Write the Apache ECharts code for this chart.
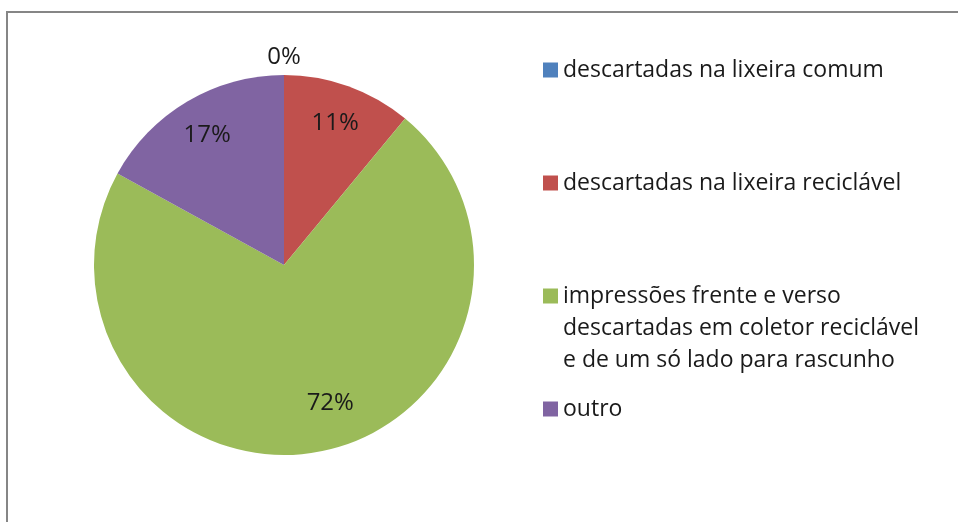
<!DOCTYPE html>
<html>
<head>
<meta charset="utf-8">
<script src="https://cdn.jsdelivr.net/npm/echarts@6/dist/echarts.min.js"></script>
<style>
  html, body { margin: 0; padding: 0; background: #fff; }
  #chart { width: 958px; height: 522px; }
</style>
</head>
<body>
<div id="chart"></div>
<script>
// categorias e valores (%)
var categories = [
  'descartadas na lixeira comum',
  'descartadas na lixeira reciclável',
  'impressões frente e verso\ndescartadas em coletor reciclável\ne de um só lado para rascunho',
  'outro'
];
var values = [0, 11, 72, 17];
var colors = ['#4F81BD', '#C0504D', '#9BBB59', '#8064A2'];
var legendTops = [54, 167, 216, 393];

var FONT = 'Open Sans';
var TXT = '#1a1a1a';

var myChart = echarts.init(document.getElementById('chart'));

// pie principal
var pieData = categories.map(function (c, i) {
  return { name: c, value: values[i], itemStyle: { color: colors[i] } };
});

// rótulos dentro das fatias
var innerLabels = categories.map(function (c, i) {
  return { name: c, value: values[i], label: { show: values[i] > 0 } };
});
// rótulo de 0% fora do pie
var outerLabels = categories.map(function (c, i) {
  return { name: c, value: values[i], label: { show: values[i] === 0 } };
});

var labelSeries = function (radius, data) {
  return {
    type: 'pie',
    center: [284, 265],
    radius: radius,
    startAngle: 90,
    clockwise: true,
    silent: true,
    animation: false,
    emphasis: { disabled: true },
    itemStyle: { color: 'transparent', borderWidth: 0 },
    label: {
      position: 'inside',
      formatter: '{c}%',
      color: TXT,
      fontFamily: FONT,
      fontSize: 24
    },
    labelLine: { show: false },
    data: data
  };
};

var legends = categories.map(function (c, i) {
  var multi = c.indexOf('\n') >= 0;
  return {
    orient: 'vertical',
    left: 543,
    top: legendTops[i],
    padding: 0,
    itemWidth: 15,
    itemHeight: 15,
    itemGap: 0,
    icon: 'rect',
    selectedMode: false,
    data: [c],
    // linhas vazias no topo p/ o quadrado ficar na 1a linha
    formatter: function (name) {
      return multi ? '\n\n' + name : name;
    },
    textStyle: {
      fontFamily: FONT,
      fontSize: 23,
      color: TXT,
      lineHeight: 32
    }
  };
});

var option = {
  animation: false,
  legend: legends,
  graphic: [{
    type: 'rect',
    shape: { x: 7, y: 12, width: 1000, height: 600 },
    style: { fill: 'none', stroke: '#868686', lineWidth: 2 },
    silent: true
  }],
  series: [
    {
      type: 'pie',
      center: [284, 265],
      radius: 190,
      startAngle: 90,
      clockwise: true,
      silent: true,
      animation: false,
      label: { show: false },
      labelLine: { show: false },
      itemStyle: { borderWidth: 0 },
      data: pieData
    },
    labelSeries([106, 190], innerLabels),
    labelSeries([190, 220], outerLabels)
  ]
};
// ajuste fino do rótulo 72%
option.series[1].labelLayout = function (p) {
  if (p.dataIndex === 2) return { dx: 18, dy: -10 };
  return {};
};

myChart.setOption(option);
</script>
</body>
</html>
